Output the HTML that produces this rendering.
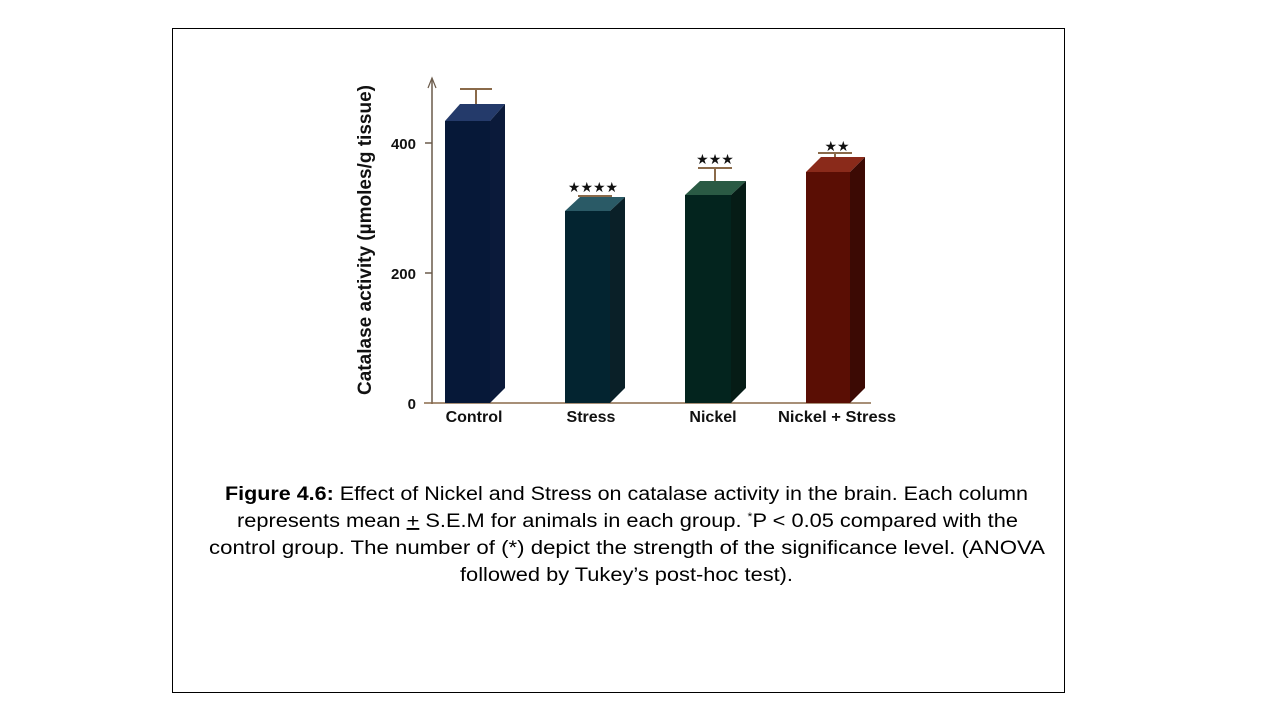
<!DOCTYPE html>
<html><head><meta charset="utf-8"><style>
html,body{margin:0;padding:0;background:#fff;}
svg{display:block;}
</style></head><body>
<svg width="1280" height="720" viewBox="0 0 1280 720" xmlns="http://www.w3.org/2000/svg" font-family="Liberation Sans, sans-serif">
<rect x="172.5" y="28.5" width="892" height="664" fill="#fff" stroke="#000" stroke-width="1"/>
<!-- axes -->
<line x1="432" y1="80" x2="432" y2="404" stroke="#6a5a4a" stroke-width="1.5"/>
<path d="M428,88 L432,78 L436,88" fill="none" stroke="#6a5a4a" stroke-width="1.2"/>
<line x1="424" y1="403" x2="871" y2="403" stroke="#8a6a4a" stroke-width="1.5"/>
<line x1="425" y1="143" x2="432" y2="143" stroke="#6a5a4a" stroke-width="1.5"/>
<line x1="425" y1="273" x2="432" y2="273" stroke="#6a5a4a" stroke-width="1.5"/>
<g font-size="15" font-weight="bold" fill="#111" text-anchor="end">
<text x="416" y="149">400</text><text x="416" y="279">200</text><text x="416" y="409">0</text>
</g>
<text transform="translate(371,240) rotate(-90)" font-size="19" font-weight="bold" text-anchor="middle" fill="#111" textLength="310" lengthAdjust="spacingAndGlyphs">Catalase activity (µmoles/g tissue)</text>
<!-- error bars -->
<g stroke="#8a6a4a" stroke-width="2">
<line x1="476" y1="89" x2="476" y2="106"/><line x1="460" y1="89" x2="492" y2="89"/>
<line x1="595" y1="196" x2="595" y2="202"/><line x1="578" y1="196" x2="612" y2="196"/>
<line x1="715" y1="168" x2="715" y2="186"/><line x1="698" y1="168" x2="732" y2="168"/>
<line x1="835" y1="153" x2="835" y2="160"/><line x1="818" y1="153" x2="852" y2="153"/>
</g>
<!-- bars -->
<g>
<polygon points="445,121 460,104 505,104 490,121" fill="#243a6a"/>
<polygon points="490,121 505,104 505,388 490,403" fill="#0b1a3a"/>
<rect x="445" y="121" width="45" height="282" fill="#061838"/>

<polygon points="565,211 580,197 625,197 610,211" fill="#2a5a66"/>
<polygon points="610,211 625,197 625,388 610,403" fill="#0a2028"/>
<rect x="565" y="211" width="45" height="192" fill="#032430"/>

<polygon points="685,195 700,181 746,181 731,195" fill="#2a5a44"/>
<polygon points="731,195 746,181 746,388 731,403" fill="#061c16"/>
<rect x="685" y="195" width="46" height="208" fill="#03241e"/>

<polygon points="806,172 821,157 865,157 850,172" fill="#8a2a1a"/>
<polygon points="850,172 865,157 865,388 850,403" fill="#3c0a04"/>
<rect x="806" y="172" width="44" height="231" fill="#5a0e04"/>
</g>
<g font-size="14" fill="#111" text-anchor="middle">
<text x="593" y="192">★★★★</text>
<text x="715" y="164">★★★</text>
<text x="837" y="151">★★</text>
</g>
<g font-size="16" font-weight="bold" fill="#111" text-anchor="middle">
<text x="474" y="422">Control</text>
<text x="591" y="422">Stress</text>
<text x="713" y="422">Nickel</text>
<text x="837" y="422" textLength="118" lengthAdjust="spacingAndGlyphs">Nickel + Stress</text>
</g>
<g font-size="19" fill="#000">
<text x="225" y="500" textLength="803" lengthAdjust="spacingAndGlyphs"><tspan font-weight="bold">Figure 4.6:</tspan> Effect of Nickel and Stress on catalase activity in the brain. Each column</text>
<text x="237" y="527" textLength="781" lengthAdjust="spacingAndGlyphs">represents mean <tspan text-decoration="underline">+</tspan> S.E.M for animals in each group. <tspan font-size="11" dy="-7">*</tspan><tspan dy="7">P &lt; 0.05 compared with the</tspan></text>
<text x="209" y="554" textLength="836" lengthAdjust="spacingAndGlyphs">control group. The number of (*) depict the strength of the significance level. (ANOVA</text>
<text x="460" y="581" textLength="333" lengthAdjust="spacingAndGlyphs">followed by Tukey’s post-hoc test).</text>
</g>
</svg>
</body></html>
